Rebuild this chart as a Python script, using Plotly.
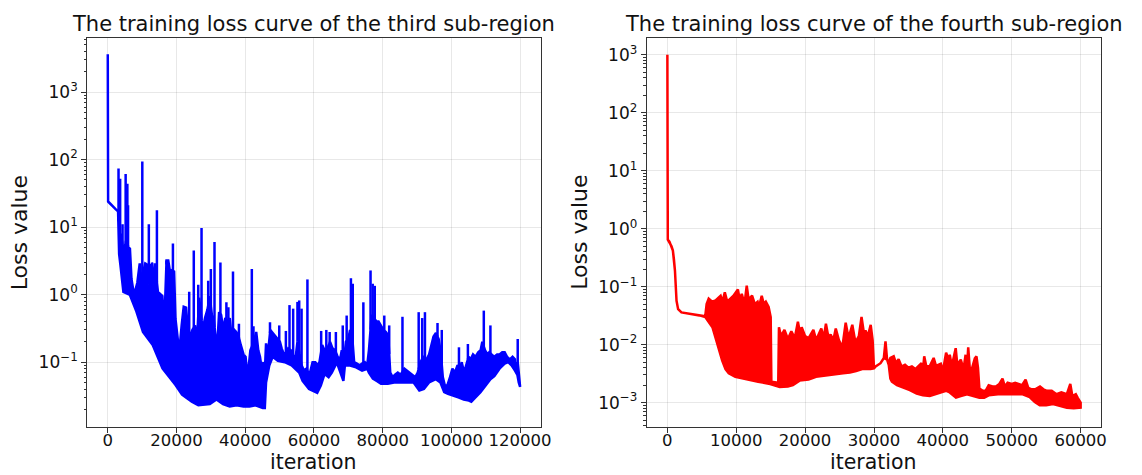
import numpy as np
import plotly.graph_objects as go

# ---------------- data: third sub-region (left, blue) ----------------
third_top_x = [0, 100, 2200, 2900, 3050, 3300, 3800, 4300, 4800, 5400, 6000, 6450, 6900, 7500, 8100, 8600,
               9300, 9700, 10400, 10900, 11400, 11800, 12300, 12800, 13300, 13700, 14600, 15400, 15900, 16400,
               17100, 17600, 18100, 18500, 19300, 19700, 20200, 20800, 21500, 22100, 22800, 23300, 24000, 24600,
               25400, 25800, 26600, 27600, 28300, 29000, 29700, 30300, 30800, 31300, 31800, 32400, 33000, 33600,
               34200, 34900, 35500, 36000, 36800, 37400, 38000, 38700, 39500, 40100, 40700, 41500, 42500, 43200,
               43800, 44300, 44800, 45300, 45700, 46060, 46600, 47300, 48000, 48600, 49300, 50100, 50600, 51300,
               51900, 52500, 53300, 54000, 54600, 55200, 55900, 56400, 57100, 57800, 58700, 59600, 60400, 61100,
               61600, 62400, 63100, 63900, 64700, 65400, 66200, 66900, 67600, 68100, 68700, 69300, 70000, 70500,
               71100, 71700, 72500, 73300, 74000, 74800, 75500, 76000, 76800, 77500, 78200, 78800, 79500, 80200,
               80900, 81600, 82200, 82900, 83600, 84400, 85200, 86300, 87000, 87800, 88600, 89500, 90200, 91000,
               91800, 92800, 93500, 94200, 94800, 95500, 96300, 96900, 97500, 98100, 98800, 99600, 100300, 101000,
               101800, 102500, 103000, 103700, 104300, 105000, 105600, 106300, 107000, 107800, 108500, 109000,
               109800, 110500, 111000, 111800, 112500, 113300, 114000, 114800, 115500, 116200, 117000, 117800,
               118500, 118900, 119300, 119600, 120000]
third_top_y = [3630, 24, 18.6, 17.5, 17, 6, 8, 5.5, 4.8, 6.5, 5, 4.8, 1.7, 1.1, 1.2, 1.5,
               2.9, 1.6, 2.2, 2.9, 2.8, 1.4, 2.7, 2.8, 1.4, 2.9, 1.1, 1.0, 0.95, 0.3,
               3.2, 3.2, 2.2, 2.3, 2.2, 0.44, 0.23, 0.14, 0.35, 0.66, 0.64, 0.3, 0.25, 0.3,
               0.35, 0.14, 0.9, 0.3, 0.45, 0.6, 0.95, 0.5, 0.45, 0.25, 0.15, 0.55, 0.5, 0.3,
               0.45, 0.4, 0.45, 0.25, 0.3, 0.28, 0.25, 0.18, 0.13, 0.12, 0.06, 0.15, 0.2, 0.28,
               0.15, 0.12, 0.08, 0.1, 0.07, 0.19, 0.13, 0.3, 0.27, 0.25, 0.22, 0.2, 0.16, 0.13,
               0.14, 0.16, 0.15, 0.13, 0.11, 0.2, 0.12, 0.09, 0.075, 0.08, 0.065, 0.1, 0.1, 0.09,
               0.1, 0.18, 0.15, 0.16, 0.2, 0.16, 0.15, 0.12, 0.11, 0.15, 0.1, 0.2, 0.22, 0.3,
               0.25, 0.1, 0.095, 0.09, 0.095, 0.1, 0.09, 0.15, 0.5, 0.45, 0.4, 0.4, 0.35, 0.3,
               0.28, 0.25, 0.07, 0.06, 0.065, 0.07, 0.065, 0.08, 0.075, 0.07, 0.065, 0.06, 0.07, 0.1,
               0.12, 0.11, 0.13, 0.18, 0.24, 0.27, 0.22, 0.14, 0.06, 0.045, 0.045, 0.06, 0.08, 0.07,
               0.09, 0.08, 0.1, 0.07, 0.09, 0.12, 0.11, 0.13, 0.12, 0.14, 0.15, 0.2,
               0.15, 0.13, 0.14, 0.13, 0.12, 0.13, 0.13, 0.14, 0.14, 0.12, 0.11, 0.12,
               0.11, 0.075, 0.1, 0.07, 0.046]
third_bot_x = [0, 100, 2200, 2900, 3000, 3300, 3700, 4550, 6450, 8340, 10240, 13080, 15920, 19720, 21610,
               24450, 26350, 29700, 31630, 33550, 35480, 37500, 39500, 41250, 43000, 45100, 45700, 46060,
               47000, 47980, 49500, 51500, 53500, 55700, 56700, 58570, 60000, 60950, 62000, 63100, 64280,
               65200, 66670, 67600, 68570, 69000, 70500, 72000, 74000, 75500, 76000, 77140, 78500, 79520,
               81500, 83320, 85000, 87000, 89000, 90670, 92000, 93500, 95480, 96800, 97900, 99000, 100290,
               102200, 103600, 105100, 105800, 107000, 108470, 110000, 111350, 112500, 114000, 115500,
               116500, 117500, 118500, 119200, 119600, 120000]
third_bot_y = [24, 24, 18.6, 17.5, 17, 4, 2.7, 1.1, 0.99, 0.56, 0.28, 0.18, 0.081, 0.046, 0.033,
               0.026, 0.023, 0.024, 0.028, 0.024, 0.022, 0.023, 0.022, 0.022, 0.023, 0.021, 0.021, 0.05,
               0.089, 0.12, 0.105, 0.1, 0.09, 0.07, 0.053, 0.04, 0.037, 0.035, 0.045, 0.067, 0.06,
               0.07, 0.099, 0.075, 0.053, 0.089, 0.089, 0.085, 0.075, 0.08, 0.07, 0.057, 0.052, 0.048,
               0.048, 0.05, 0.05, 0.05, 0.05, 0.038, 0.04, 0.05, 0.056, 0.05, 0.036, 0.034, 0.032,
               0.03, 0.028, 0.027, 0.026, 0.03, 0.036, 0.045, 0.056, 0.062, 0.08, 0.095,
               0.1, 0.09, 0.075, 0.065, 0.05, 0.043]
third_spike_x = [3130, 3600, 4300, 5200, 5700, 5900, 10050, 11950, 12900, 14300, 17060, 18960, 23700, 25030,
                 26330, 27290, 29230, 30000, 31060, 32780, 34520, 35100, 36440, 38170, 41920, 42400, 47210,
                 49900, 51830, 52890, 53950, 55200, 55710, 56400, 58100, 62100, 63600, 64570, 66380, 68380,
                 69520, 70760, 71300, 74380, 76470, 77100, 77700, 80470, 81900, 85760, 90480, 91500, 92300,
                 95960, 97200, 102200, 104800, 109430, 111350, 119300]
third_spike_y = [74, 52, 11, 61, 44, 21, 94, 11, 3, 17.7, 3.2, 5.7, 1.1, 4.5,
                 1.4, 9.7, 1.6, 2.4, 6.0, 3.0, 0.77, 0.65, 2.2, 0.37, 2.4, 0.34, 0.39,
                 0.35, 0.29, 0.70, 0.62, 0.78, 0.82, 0.62, 1.68, 0.29, 0.30, 0.28, 0.28, 0.35,
                 0.49, 1.75, 1.45, 0.77, 2.28, 1.45, 1.35, 0.49, 0.35, 0.47, 0.55, 0.45, 0.55,
                 0.38, 0.3, 0.166, 0.186, 0.58, 0.35, 0.22]

# ---------------- data: fourth sub-region (right, red) ----------------
fourth_top_x = [0, 60, 300, 600, 800, 950, 1100, 1330, 1560, 2040, 3220, 4650, 5500, 5700, 6000, 6500, 7000,
                7730, 8000, 8340, 8700, 9000, 9600, 10240, 10500, 10800, 11200, 11520, 11800, 12300, 12700,
                13100, 13300, 13700, 14000, 14300, 14700, 15000, 15100, 16100, 16200, 16500, 17000, 17500,
                18000, 18500, 18950, 19300, 19500, 20000, 20500, 21200, 21600, 22350, 22700, 23020, 23400,
                23700, 24100, 24450, 24900, 25400, 25890, 26300, 26850, 27300, 27800, 28190, 28500, 28810,
                29100, 29520, 29800, 30000, 30240, 30950, 31430, 31670, 31900, 32140, 32380, 32860, 33200,
                33570, 34000, 34500, 35000, 35500, 36000, 36900, 37100, 37290, 37600, 38100, 38660, 39000,
                39700, 40000, 40470, 40800, 41000, 41300, 41860, 42100, 42600, 43000, 43300, 43500, 43680,
                43900, 44200, 44640, 44880, 45100, 45300, 45800, 46200, 46650, 47200, 47700, 48200, 48660,
                49000, 49400, 50000, 50500, 51000, 51500, 52010, 52400, 52900, 53400, 54100, 54600, 55100,
                55800, 56500, 57200, 58000, 58500, 58800, 59300, 59600, 60000]
fourth_top_y = [1000, 0.65, 0.6, 0.5, 0.42, 0.3, 0.19, 0.057, 0.041, 0.036, 0.034, 0.032, 0.031, 0.05, 0.062,
                0.055, 0.058, 0.07, 0.055, 0.08, 0.055, 0.06, 0.07, 0.09, 0.06, 0.075, 0.05, 0.104, 0.06,
                0.07, 0.05, 0.055, 0.045, 0.07, 0.05, 0.055, 0.045, 0.03, 0.0023, 0.0022, 0.02, 0.014,
                0.018, 0.0125, 0.017, 0.013, 0.025, 0.015, 0.02, 0.014, 0.013, 0.018, 0.012, 0.019, 0.013,
                0.023, 0.013, 0.015, 0.012, 0.019, 0.012, 0.009, 0.024, 0.013, 0.022, 0.011, 0.014, 0.03,
                0.017, 0.017, 0.014, 0.022, 0.012, 0.0039, 0.0042, 0.0048, 0.0059, 0.0114, 0.0055, 0.005,
                0.0059, 0.0063, 0.0048, 0.0056, 0.0042, 0.0045, 0.004, 0.0042, 0.0038, 0.0048, 0.0035,
                0.0063, 0.0042, 0.0043, 0.0059, 0.0043, 0.0047, 0.0035, 0.0073, 0.0055, 0.0067, 0.0043,
                0.0087, 0.0045, 0.0055, 0.0038, 0.0067, 0.0038, 0.009, 0.004, 0.0038, 0.0058, 0.0063,
                0.004, 0.00175, 0.0016, 0.0016, 0.002, 0.0019, 0.0019, 0.0021, 0.0026, 0.0019, 0.0022,
                0.0021, 0.0022, 0.0021, 0.002, 0.0025, 0.0018, 0.0017, 0.0017, 0.0019, 0.0017, 0.0016,
                0.0016, 0.0014, 0.0015, 0.0014, 0.0021, 0.0013, 0.0014, 0.0012, 0.001]
fourth_bot_x = [0, 60, 300, 600, 800, 950, 1100, 1330, 1560, 2040, 3220, 4650, 5500, 6540, 7250, 7960, 8440,
                8910, 9860, 10810, 11760, 13180, 14920, 16310, 17500, 18230, 19190, 20500, 21580, 23000,
                24450, 25500, 26500, 27400, 28290, 29500, 30000, 30240, 30950, 31430, 31900, 32140, 32380,
                32600, 33330, 34290, 35200, 36190, 37100, 38100, 39000, 40000, 40500, 41000, 41900, 42600,
                43500, 44300, 45300, 46000, 46650, 48000, 50000, 51500, 52600, 53350, 54070, 55000, 56000,
                57000, 58000, 59000, 60000]
fourth_bot_y = [0.65, 0.65, 0.6, 0.5, 0.42, 0.3, 0.19, 0.057, 0.041, 0.036, 0.034, 0.032, 0.030, 0.02, 0.0103,
                0.0053, 0.0038, 0.0032, 0.0028, 0.0026, 0.0025, 0.0023, 0.0021, 0.00186, 0.0019, 0.002,
                0.0024, 0.0025, 0.0028, 0.0029, 0.0031, 0.0032, 0.0033, 0.0035, 0.0038, 0.0038, 0.0039,
                0.0042, 0.0048, 0.0059, 0.0055, 0.0045, 0.0026, 0.0023, 0.002, 0.0018, 0.00164, 0.00143,
                0.00134, 0.0013, 0.0014, 0.00154, 0.0016, 0.0015, 0.00122, 0.0013, 0.0014, 0.0013,
                0.00122, 0.00122, 0.00134, 0.0014, 0.0014, 0.0014, 0.00125, 0.00103, 0.0009, 0.0009,
                0.00095, 0.00088, 0.00082, 0.0008, 0.00082]

# ---------------- ticks / labels ----------------
left_xticks = [0, 20000, 40000, 60000, 80000, 100000, 120000]
right_xticks = [0, 10000, 20000, 30000, 40000, 50000, 60000]
left_yticks = [0.1, 1, 10, 100, 1000]
left_ytext = ["10<sup>\u22121</sup>", "10<sup>0</sup>", "10<sup>1</sup>", "10<sup>2</sup>", "10<sup>3</sup>"]
right_yticks = [0.001, 0.01, 0.1, 1, 10, 100, 1000]
right_ytext = ["10<sup>\u22123</sup>", "10<sup>\u22122</sup>", "10<sup>\u22121</sup>", "10<sup>0</sup>",
               "10<sup>1</sup>", "10<sup>2</sup>", "10<sup>3</sup>"]
titles = ["The training loss curve of the third sub-region", "The training loss curve of the fourth sub-region"]
xlabel = "iteration"
ylabel = "Loss value"

FONT = "DejaVu Sans"
W, H = 1142, 475
# axes boxes in pixels (left, right, top, bottom)
boxL = (88, 546, 38, 427)
boxR = (653, 1112, 38, 427)


def band_trace(tx, ty, bx, by, color, xa, ya):
    xs = list(tx) + list(bx)[::-1]
    ys = list(ty) + list(by)[::-1]
    return go.Scatter(x=xs, y=ys, mode="lines", fill="toself", fillcolor=color,
                      line=dict(color=color, width=2.5), xaxis=xa, yaxis=ya,
                      hoverinfo="skip", showlegend=False)


def spike_trace(sx, sy, tx, ty, color, xa, ya):
    base = 10 ** np.interp(sx, tx, np.log10(ty))
    xs, ys = [], []
    for x, b, p in zip(sx, base, sy):
        xs += [x, x, None]
        ys += [b, p, None]
    return go.Scatter(x=xs, y=ys, mode="lines", line=dict(color=color, width=2.5),
                      xaxis=xa, yaxis=ya, hoverinfo="skip", showlegend=False)


fig = go.Figure()
fig.add_trace(band_trace(third_top_x, third_top_y, third_bot_x, third_bot_y, "#0000ff", "x", "y"))
fig.add_trace(spike_trace(third_spike_x, third_spike_y, third_top_x, third_top_y, "#0000ff", "x", "y"))
fig.add_trace(band_trace(fourth_top_x, fourth_top_y, fourth_bot_x, fourth_bot_y, "#ff0000", "x2", "y2"))


def minor_vals(lo, hi):
    vals = []
    for e in range(lo, hi):
        for m in range(2, 10):
            vals.append(m * 10.0 ** e)
    return vals


common_ax = dict(showline=True, mirror=True, linecolor="#333333", linewidth=1,
                 ticks="outside", ticklen=5, tickwidth=1, tickcolor="#333333",
                 showgrid=True, gridcolor="rgba(0,0,0,0.09)", gridwidth=1, zeroline=False,
                 tickfont=dict(family=FONT, size=17, color="#111111"))


def dom_x(b):
    return [b[0] / W, b[1] / W]


def dom_y(b):
    return [1 - b[3] / H, 1 - b[2] / H]


fig.update_layout(
    width=W, height=H, autosize=False,
    margin=dict(l=0, r=0, t=0, b=0),
    paper_bgcolor="white", plot_bgcolor="white",
    font=dict(family=FONT, color="#111111"),
    xaxis=dict(domain=dom_x(boxL), range=[-6000, 126000], tickvals=left_xticks, tickformat="d",
               anchor="y", ticklabelstandoff=-7, **common_ax),
    yaxis=dict(domain=dom_y(boxL), type="log", range=[-1.96, 3.8], tickvals=left_yticks,
               ticktext=left_ytext, anchor="x",
               minor=dict(tickvals=minor_vals(-2, 4), ticks="outside", ticklen=2.5,
                          tickcolor="#333333", showgrid=False),
               **common_ax),
    xaxis2=dict(domain=dom_x(boxR), range=[-3000, 63000], tickvals=right_xticks, tickformat="d",
                anchor="y2", ticklabelstandoff=-7, **common_ax),
    yaxis2=dict(domain=dom_y(boxR), type="log", range=[-3.42, 3.29], tickvals=right_yticks,
                ticktext=right_ytext, anchor="x2",
                minor=dict(tickvals=minor_vals(-4, 4), ticks="outside", ticklen=2.5,
                           tickcolor="#333333", showgrid=False),
                **common_ax),
)
fig.update_xaxes(tickfont=dict(family=FONT, size=16.5, color="#111111"))

annos = []
for b, t in zip([boxL, boxR], titles):
    cx = (b[0] + b[1]) / 2 / W
    annos.append(dict(text=t, x=cx, y=1 - 23.5 / H, xref="paper", yref="paper", xanchor="center",
                      yanchor="middle", showarrow=False, font=dict(family=FONT, size=21, color="#111111")))
    annos.append(dict(text=xlabel, x=cx, y=1 - 462 / H, xref="paper", yref="paper", xanchor="center",
                      yanchor="middle", showarrow=False, font=dict(family=FONT, size=20.5, color="#111111")))
for xpix in [20, 585]:
    annos.append(dict(text=ylabel, x=xpix / W, y=1 - 232.5 / H, xref="paper", yref="paper",
                      xanchor="center", yanchor="middle", textangle=-90, showarrow=False,
                      font=dict(family=FONT, size=22, color="#111111")))
fig.update_layout(annotations=annos)

fig.write_html("out.html")
